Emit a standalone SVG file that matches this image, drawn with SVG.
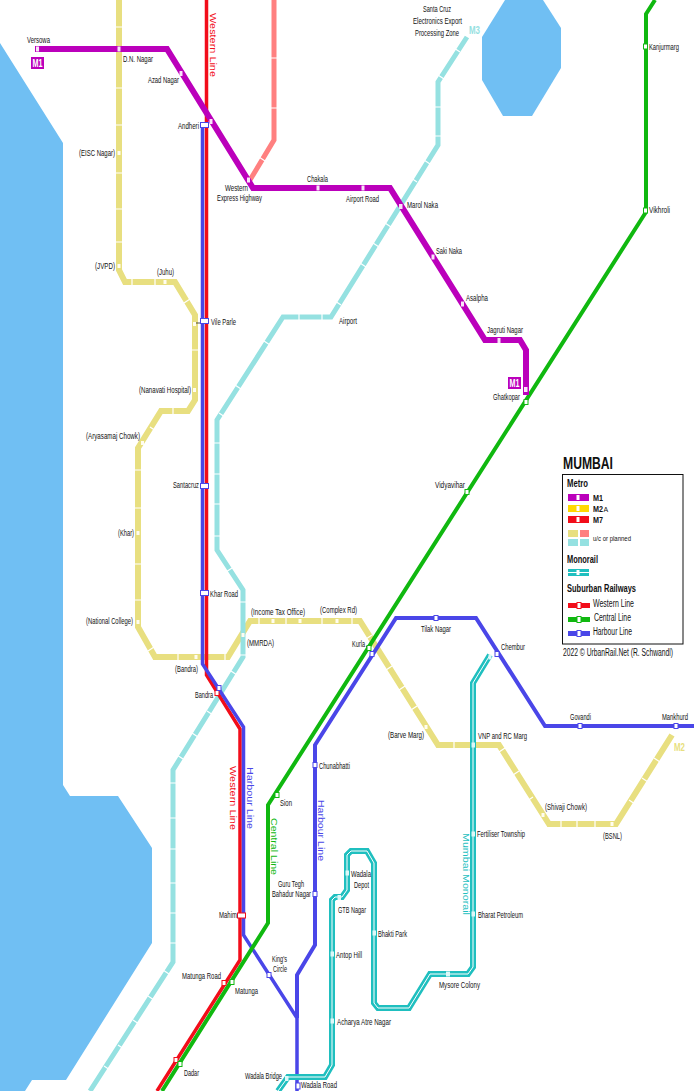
<svg xmlns="http://www.w3.org/2000/svg" width="694" height="1091" viewBox="0 0 694 1091">
<style>
text{font-family:"Liberation Sans",Arial,sans-serif;font-size:9px;fill:#111}
.b{font-weight:bold}
.l{fill:none;stroke-linejoin:miter}
.m1{stroke:#BB00BB;stroke-width:6}
.uy{stroke:#E8DF80;stroke-width:6}
.ut{stroke:#95E1E1;stroke-width:5}
.up{stroke:#FF8080;stroke-width:5}
.we{stroke:#F20D1A;stroke-width:3.500}
.ce{stroke:#10B810;stroke-width:4}
.ha{stroke:#4A46E8;stroke-width:3.500}
.hb{stroke:#4A46E8;stroke-width:4}
.mo{stroke:#1FBFBF;stroke-width:6}
.mi{stroke:#fff;stroke-width:1}
.tk{fill:none;stroke:#fff;stroke-width:1.200}
.sp{fill:#F8E4F8}
.su{fill:#FFFDF0}
.sr{fill:#fff;stroke:#F20D1A}
.sg{fill:#fff;stroke:#10B810}
.sb{fill:#fff;stroke:#4A46E8}
.sm{fill:#DDF8F8}
.bd{fill:#BB00BB}
.w{fill:#fff;font-weight:bold;font-size:11px}
.rl{font-size:9.500px}
</style>
<g id="water">
<path fill="#70BFF3" d="M0 43L63 143V785L70 796H118L152 848V943L66 1080H32L25 1091H0Z"/>
<path fill="#70BFF3" d="M505 0H543L561 28V68L532 116H503L482 80V37Z"/>
</g>
<g id="connectors">
<path class="l uy" d="M119 0V270L125 282H175L195 315V400L188 411H161L138 448V627L155 657H228L250 621H360L438 745H499L549 824H616L672 735"/>
<path class="tk" d="M115 27h8M115 88h8M115 125h8M115 173h8M115 209h8M115 242h8M132 278v8M155 278v8M184 303l6-4M191 350h8M173 407v8M150 427l6 4M134 470h8M134 508h8M134 564h8M134 600h8M148 651l6-4M178 653v8M225 653v8M259 617v8M286 617v8M322 617v8M352 617v8M366 639l6-4M386 670l6-4M399 690l6-4M411 710l6-4M454 741v8M499 752l6-4M513 775l6-4M527 801l6-4M561 820v8M577 820v8M595 820v8M629 800l6 4M642 778l6 4M654 758l6 4"/>
<path class="l ut" d="M467 37L438 82V145L331 317H283L217 420V550L243 590V657L173 770V962L90 1091"/>
<path class="tk" d="M454 48l6 4M438 75l6 4M434 107h8M434 136h8M424 160l6 4M411 178l6 4M385 223l6 4M373 243l6 4M360 263l6 4M335 301l6 4M299 313v8M322 313v8M264 341l6 4M235 385l6 4M219 413l6 4M213 443h8M213 474h8M213 504h8M213 536h8M226 572l6-4M239 602h8M239 655h8M231 671l6 4M207 711l6 4M192 733l6 4M177 755l6 4M169 783h8M169 818h8M169 849h8M169 883h8M169 913h8M169 943h8M163 970l6 4M148 996l6 4M133 1020l6 4M118 1045l6 4M104 1066l6 4"/>
<path class="l up" d="M274 0V140L250 180"/>
<path class="tk" d="M270 58h8M270 108h8M259 157l6 4"/>
<path class="l we" d="M206.500 0V675L240 729V960L157 1091"/>
<path class="l ha" d="M202.500 125V664L243.500 727V935L297 1018V1091"/>
<path class="l hb" d="M297 1018V975L315 945V745L396 618H476L545 726H694"/>
<path class="l ce" d="M655 0L646 14V212L268 805V923L162 1091"/>
<path class="l m1" d="M35 49H167L253 188H390L485 340H520L526 350V395"/>
<path class="l mo" d="M490 655L473 683V967L468 974H430L409 1008H378L374 1003V863L367 851H351L347 855V890L342 897H335L332 900V1065L325 1077H288L278 1091"/>
<path class="l mi" d="M490 655L473 683V967L468 974H430L409 1008H378L374 1003V863L367 851H351L347 855V890L342 897H335L332 900V1065L325 1077H288L278 1091"/>
<path fill="none" stroke="#222" stroke-width=".8" d="M196 323H201M366 646L371 651"/>
</g>
<g id="line-labels">
<text transform="translate(209.500 13) rotate(90)" class="rl" style="fill:#F20D1A" textLength="64" lengthAdjust="spacingAndGlyphs">Western Line</text>
<text transform="translate(230 766) rotate(90)" class="rl" style="fill:#F20D1A" textLength="64" lengthAdjust="spacingAndGlyphs">Western Line</text>
<text transform="translate(246.500 767) rotate(90)" class="rl" style="fill:#4A46E8" textLength="62" lengthAdjust="spacingAndGlyphs">Harbour Line</text>
<text transform="translate(270.500 818) rotate(90)" class="rl" style="fill:#10B810" textLength="57" lengthAdjust="spacingAndGlyphs">Central Line</text>
<text transform="translate(318 800) rotate(90)" class="rl" style="fill:#4A46E8" textLength="61" lengthAdjust="spacingAndGlyphs">Harbour Line</text>
<text transform="translate(463 833) rotate(90)" class="rl" style="fill:#1FBFBF" textLength="82" lengthAdjust="spacingAndGlyphs">Mumbai Monorail</text>
<text x="469" y="34" class="b" style="fill:#95E1E1;font-size:11px" textLength="11" lengthAdjust="spacingAndGlyphs">M3</text>
<text x="674" y="751" class="b" style="fill:#E8DF80;font-size:11px" textLength="11" lengthAdjust="spacingAndGlyphs">M2</text>
</g>
<g id="m1-west"><rect class="bd" x="31" y="57" width="13" height="12"/><text x="32.500" y="67" class="w" textLength="10" lengthAdjust="spacingAndGlyphs">M1</text></g>
<g id="m1-east"><rect class="bd" x="508" y="377" width="13" height="12"/><text x="509.500" y="387" class="w" textLength="10" lengthAdjust="spacingAndGlyphs">M1</text></g>
<g id="versowa"><rect class="sp" x="36" y="46.500" width="3" height="5"/><text x="27" y="43" textLength="23" lengthAdjust="spacingAndGlyphs">Versowa</text></g>
<g id="dn-nagar"><rect class="sp" x="117.500" y="46.500" width="3" height="5"/><text x="123" y="62" textLength="30" lengthAdjust="spacingAndGlyphs">D.N. Nagar</text></g>
<g id="azad-nagar"><rect class="sp" x="179.500" y="71" width="3" height="5"/><text x="148" y="83" textLength="31" lengthAdjust="spacingAndGlyphs">Azad Nagar</text></g>
<g id="andheri"><rect class="sp" x="209.500" y="119" width="3" height="5"/><rect class="sb" x="200.500" y="122.500" width="8" height="5"/><text x="178" y="129" textLength="21" lengthAdjust="spacingAndGlyphs">Andheri</text></g>
<g id="western-express"><rect class="sp" x="247" y="177.500" width="3" height="5"/><text x="225" y="191" textLength="23" lengthAdjust="spacingAndGlyphs">Western</text><text x="217" y="201" textLength="45" lengthAdjust="spacingAndGlyphs">Express Highway</text></g>
<g id="chakala"><rect class="sp" x="316.500" y="185.500" width="3" height="5"/><text x="307" y="182" textLength="21" lengthAdjust="spacingAndGlyphs">Chakala</text></g>
<g id="airport-road"><rect class="sp" x="361.500" y="185.500" width="3" height="5"/><text x="346" y="202" textLength="33" lengthAdjust="spacingAndGlyphs">Airport Road</text></g>
<g id="marol-naka"><rect class="sp" x="399" y="204" width="3.500" height="5"/><text x="407" y="208" textLength="31" lengthAdjust="spacingAndGlyphs">Marol Naka</text></g>
<g id="saki-naka"><rect class="sp" x="431.500" y="254.500" width="3" height="5"/><text x="436" y="254" textLength="26" lengthAdjust="spacingAndGlyphs">Saki Naka</text></g>
<g id="asalpha"><rect class="sp" x="461" y="301.500" width="3" height="5"/><text x="466" y="301" textLength="22" lengthAdjust="spacingAndGlyphs">Asalpha</text></g>
<g id="jagruti-nagar"><rect class="sp" x="497.500" y="338" width="3" height="5"/><text x="487" y="333" textLength="36" lengthAdjust="spacingAndGlyphs">Jagruti Nagar</text></g>
<g id="ghatkopar"><rect class="sp" x="524" y="387" width="3.500" height="5"/><rect class="sg" x="524" y="399.500" width="4" height="5"/><text x="493" y="400" textLength="27" lengthAdjust="spacingAndGlyphs">Ghatkopar</text></g>
<g id="santa-cruz-eepz"><text x="423" y="12" textLength="28" lengthAdjust="spacingAndGlyphs">Santa Cruz</text><text x="413" y="24" textLength="49" lengthAdjust="spacingAndGlyphs">Electronics Export</text><text x="415" y="36" textLength="44" lengthAdjust="spacingAndGlyphs">Processing Zone</text></g>
<g id="airport"><text x="339" y="324" textLength="18" lengthAdjust="spacingAndGlyphs">Airport</text></g>
<g id="kanjurmarg"><rect class="sg" x="643.500" y="44" width="4" height="5"/><text x="649" y="50" textLength="30" lengthAdjust="spacingAndGlyphs">Kanjurmarg</text></g>
<g id="vikhroli"><rect class="sg" x="643.500" y="208" width="4" height="5"/><text x="649" y="213" textLength="21" lengthAdjust="spacingAndGlyphs">Vikhroli</text></g>
<g id="vidyavihar"><rect class="sg" x="465" y="489.500" width="4" height="5"/><text x="435" y="488" textLength="30" lengthAdjust="spacingAndGlyphs">Vidyavihar</text></g>
<g id="eisc-nagar"><rect class="su" x="117.500" y="151" width="3" height="4"/><text x="79" y="156" textLength="36" lengthAdjust="spacingAndGlyphs">(EISC Nagar)</text></g>
<g id="jvpd"><rect class="su" x="117.500" y="264" width="3" height="4"/><text x="95" y="269" textLength="20" lengthAdjust="spacingAndGlyphs">(JVPD)</text></g>
<g id="juhu"><rect class="su" x="163.500" y="280" width="3" height="4"/><text x="157" y="275" textLength="17" lengthAdjust="spacingAndGlyphs">(Juhu)</text></g>
<g id="vile-parle"><rect class="su" x="193" y="322" width="3" height="4"/><rect class="sb" x="200.500" y="318.500" width="8" height="5"/><text x="211" y="325" textLength="25" lengthAdjust="spacingAndGlyphs">Vile Parle</text></g>
<g id="nanavati"><rect class="su" x="193" y="388" width="3" height="4"/><text x="139" y="393" textLength="52" lengthAdjust="spacingAndGlyphs">(Nanavati Hospital)</text></g>
<g id="aryasamaj"><rect class="su" x="141" y="441" width="3" height="4"/><text x="86" y="439" textLength="54" lengthAdjust="spacingAndGlyphs">(Aryasamaj Chowk)</text></g>
<g id="santacruz"><rect class="sb" x="200.500" y="483.500" width="8" height="5"/><text x="173" y="488" textLength="26" lengthAdjust="spacingAndGlyphs">Santacruz</text></g>
<g id="khar"><rect class="su" x="136.500" y="531" width="3" height="4"/><text x="118" y="536" textLength="16" lengthAdjust="spacingAndGlyphs">(Khar)</text></g>
<g id="khar-road"><rect class="sb" x="200.500" y="590.500" width="8" height="5"/><text x="210" y="597" textLength="28" lengthAdjust="spacingAndGlyphs">Khar Road</text></g>
<g id="national-college"><rect class="su" x="136.500" y="620" width="3" height="4"/><text x="86" y="624" textLength="47" lengthAdjust="spacingAndGlyphs">(National College)</text></g>
<g id="bandra-metro"><rect class="su" x="194.500" y="655" width="3" height="4"/><text x="175" y="672" textLength="23" lengthAdjust="spacingAndGlyphs">(Bandra)</text></g>
<g id="mmrda"><rect class="su" x="241.500" y="633" width="3" height="4"/><text x="247" y="646" textLength="27" lengthAdjust="spacingAndGlyphs">(MMRDA)</text></g>
<g id="income-tax"><rect class="su" x="271.500" y="619" width="3" height="4"/><text x="251" y="615" textLength="54" lengthAdjust="spacingAndGlyphs">(Income Tax Office)</text></g>
<g id="complex-rd"><rect class="su" x="298.500" y="619" width="3" height="4"/><rect class="su" x="335.500" y="619" width="3" height="4"/><text x="320" y="613" textLength="37" lengthAdjust="spacingAndGlyphs">(Complex Rd)</text></g>
<g id="bandra"><rect class="sr" x="215" y="690.500" width="4" height="5"/><rect class="sb" x="217" y="685.500" width="4" height="5"/><text x="195" y="698" textLength="18" lengthAdjust="spacingAndGlyphs">Bandra</text></g>
<g id="kurla"><rect class="sg" x="367" y="645.500" width="4" height="5"/><rect class="sb" x="370" y="651.500" width="4" height="5"/><text x="352" y="647" textLength="13" lengthAdjust="spacingAndGlyphs">Kurla</text></g>
<g id="tilak-nagar"><rect class="sb" x="434" y="615.500" width="4" height="5"/><text x="421" y="632" textLength="30" lengthAdjust="spacingAndGlyphs">Tilak Nagar</text></g>
<g id="chembur"><rect class="sb" x="495" y="651.500" width="4" height="5"/><rect class="sm" x="488.500" y="654.500" width="3" height="5"/><text x="501" y="650" textLength="24" lengthAdjust="spacingAndGlyphs">Chembur</text></g>
<g id="govandi"><rect class="sb" x="578" y="723.500" width="4" height="5"/><text x="570" y="720" textLength="21" lengthAdjust="spacingAndGlyphs">Govandi</text></g>
<g id="mankhurd"><rect class="sb" x="674" y="723.500" width="4" height="5"/><text x="662" y="720" textLength="26" lengthAdjust="spacingAndGlyphs">Mankhurd</text></g>
<g id="barve-marg"><rect class="su" x="424.500" y="725" width="3" height="4"/><text x="388" y="738" textLength="36" lengthAdjust="spacingAndGlyphs">(Barve Marg)</text></g>
<g id="vnp-rc-marg"><rect class="sm" x="471.500" y="742.500" width="3.500" height="5"/><text x="478" y="739" textLength="49" lengthAdjust="spacingAndGlyphs">VNP and RC Marg</text></g>
<g id="shivaji-chowk"><rect class="su" x="541.500" y="813" width="3" height="4"/><text x="545" y="810" textLength="42" lengthAdjust="spacingAndGlyphs">(Shivaji Chowk)</text></g>
<g id="bsnl"><rect class="su" x="610.500" y="822" width="3" height="4"/><text x="603" y="839" textLength="19" lengthAdjust="spacingAndGlyphs">(BSNL)</text></g>
<g id="chunabhatti"><rect class="sb" x="313" y="762.500" width="4" height="5"/><text x="319" y="769" textLength="31" lengthAdjust="spacingAndGlyphs">Chunabhatti</text></g>
<g id="sion"><rect class="sg" x="275" y="792.500" width="4" height="5"/><text x="280" y="806" textLength="12" lengthAdjust="spacingAndGlyphs">Sion</text></g>
<g id="fertiliser"><rect class="sm" x="471.500" y="831.500" width="3.500" height="5"/><text x="477" y="837" textLength="48" lengthAdjust="spacingAndGlyphs">Fertiliser Township</text></g>
<g id="bharat-petroleum"><rect class="sm" x="471.500" y="911.500" width="3.500" height="5"/><text x="478" y="918" textLength="45" lengthAdjust="spacingAndGlyphs">Bharat Petroleum</text></g>
<g id="wadala-depot"><rect class="sm" x="345.500" y="870.500" width="3.500" height="5"/><text x="351" y="877" textLength="20" lengthAdjust="spacingAndGlyphs">Wadala</text><text x="354" y="888" textLength="15" lengthAdjust="spacingAndGlyphs">Depot</text></g>
<g id="gtb-nagar"><rect class="sm" x="337.500" y="895" width="3.500" height="5"/><text x="338" y="913" textLength="28" lengthAdjust="spacingAndGlyphs">GTB Nagar</text></g>
<g id="bhakti-park"><rect class="sm" x="372.500" y="930.500" width="3.500" height="5"/><text x="378" y="937" textLength="29" lengthAdjust="spacingAndGlyphs">Bhakti Park</text></g>
<g id="antop-hill"><rect class="sm" x="330.500" y="951.500" width="3.500" height="5"/><text x="336" y="958" textLength="26" lengthAdjust="spacingAndGlyphs">Antop Hill</text></g>
<g id="acharya"><rect class="sm" x="330.500" y="1018.500" width="3.500" height="5"/><text x="337" y="1025" textLength="54" lengthAdjust="spacingAndGlyphs">Acharya Atre Nagar</text></g>
<g id="mysore-colony"><rect class="sm" x="446" y="971.500" width="4" height="5"/><text x="439" y="988" textLength="41" lengthAdjust="spacingAndGlyphs">Mysore Colony</text></g>
<g id="guru-tegh"><rect class="sb" x="313" y="891.500" width="4" height="5"/><text x="278" y="887" textLength="26" lengthAdjust="spacingAndGlyphs">Guru Tegh</text><text x="272" y="897" textLength="39" lengthAdjust="spacingAndGlyphs">Bahadur Nagar</text></g>
<g id="mahim"><rect class="sr" x="237.500" y="913" width="8" height="5"/><text x="219" y="918" textLength="18" lengthAdjust="spacingAndGlyphs">Mahim</text></g>
<g id="kings-circle"><rect class="sb" x="267" y="972.500" width="4" height="5"/><text x="272" y="962" textLength="15" lengthAdjust="spacingAndGlyphs">King's</text><text x="273" y="972" textLength="14" lengthAdjust="spacingAndGlyphs">Circle</text></g>
<g id="matunga-road"><rect class="sr" x="222" y="980.500" width="4" height="5"/><text x="182" y="979" textLength="39" lengthAdjust="spacingAndGlyphs">Matunga Road</text></g>
<g id="matunga"><rect class="sg" x="230" y="979.500" width="4" height="5"/><text x="235" y="994" textLength="23" lengthAdjust="spacingAndGlyphs">Matunga</text></g>
<g id="dadar"><rect class="sr" x="174" y="1057.500" width="4" height="5"/><rect class="sg" x="178" y="1061.500" width="4" height="5"/><text x="184" y="1076" textLength="15" lengthAdjust="spacingAndGlyphs">Dadar</text></g>
<g id="wadala-bridge"><rect class="sm" x="285" y="1076" width="3.500" height="5"/><text x="245" y="1079" textLength="37" lengthAdjust="spacingAndGlyphs">Wadala Bridge</text></g>
<g id="wadala-road"><rect class="sb" x="296" y="1083" width="4" height="6"/><text x="301" y="1088" textLength="36" lengthAdjust="spacingAndGlyphs">Wadala Road</text></g>
<g id="legend">
<text x="563" y="469" class="b" style="font-size:17px" textLength="50" lengthAdjust="spacingAndGlyphs">MUMBAI</text>
<rect x="562.500" y="474.500" width="120.500" height="169.500" fill="#fff" stroke="#111"/>
<text x="567" y="487" class="b" style="font-size:11px" textLength="21" lengthAdjust="spacingAndGlyphs">Metro</text>
<rect x="568" y="494" width="21" height="7" fill="#BB00BB"/><rect x="576.500" y="495" width="3" height="5" fill="#fff"/>
<rect x="568" y="505" width="21" height="7" fill="#FFD800"/><rect x="576.500" y="506" width="3" height="5" fill="#fff"/>
<rect x="568" y="516" width="21" height="7" fill="#F20D1A"/><rect x="576.500" y="517" width="3" height="5" fill="#fff"/>
<text x="593" y="501" class="b" textLength="10" lengthAdjust="spacingAndGlyphs">M1</text>
<text x="593" y="512" class="b" textLength="10" lengthAdjust="spacingAndGlyphs">M2</text><text x="603.500" y="512" style="font-size:7px">A</text>
<text x="593" y="523" class="b" textLength="10" lengthAdjust="spacingAndGlyphs">M7</text>
<rect x="568" y="530" width="10" height="7" fill="#E8DF80"/><rect x="580" y="530" width="9" height="7" fill="#FF8080"/>
<rect x="568" y="539" width="10" height="7" fill="#95E1E1"/><rect x="580" y="539" width="9" height="7" fill="#95E1E1"/>
<text x="593" y="541" style="font-size:8px" textLength="38" lengthAdjust="spacingAndGlyphs">u/c or planned</text>
<text x="567" y="563" class="b" style="font-size:11px" textLength="31" lengthAdjust="spacingAndGlyphs">Monorail</text>
<rect x="568" y="569" width="21" height="7" fill="#1FBFBF"/><path d="M568 572.500H589" stroke="#fff"/><rect x="576.500" y="570" width="3" height="5" fill="#fff"/>
<text x="567" y="592" class="b" style="font-size:11px" textLength="69" lengthAdjust="spacingAndGlyphs">Suburban Railways</text>
<rect x="568" y="603" width="22" height="5" fill="#F20D1A"/><rect class="sr" x="577" y="602.500" width="4" height="6"/>
<text x="593" y="607" style="font-size:10px" textLength="41" lengthAdjust="spacingAndGlyphs">Western Line</text>
<rect x="568" y="617" width="22" height="5" fill="#10B810"/><rect class="sg" x="577" y="616.500" width="4" height="6"/>
<text x="594" y="621" style="font-size:10px" textLength="37" lengthAdjust="spacingAndGlyphs">Central Line</text>
<rect x="568" y="631" width="22" height="5" fill="#4A46E8"/><rect class="sb" x="577" y="630.500" width="4" height="6"/>
<text x="593" y="635" style="font-size:10px" textLength="39" lengthAdjust="spacingAndGlyphs">Harbour Line</text>
<text x="563" y="656" style="font-size:10px" textLength="110" lengthAdjust="spacingAndGlyphs">2022 © UrbanRail.Net (R. Schwandl)</text>
</g>
</svg>
